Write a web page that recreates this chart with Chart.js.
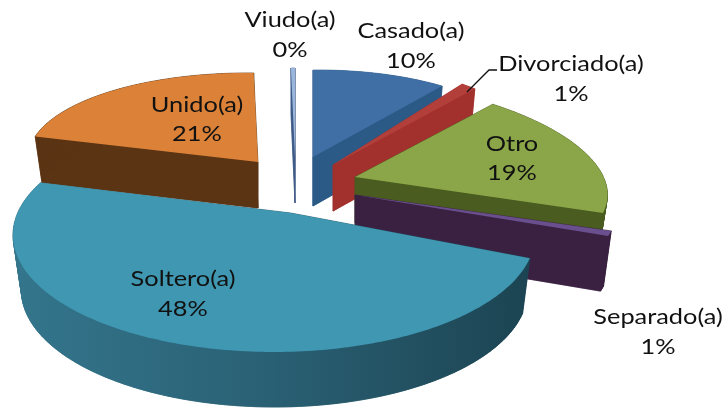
<!DOCTYPE html>
<html>
<head>
<meta charset="utf-8">
<style>html,body{margin:0;padding:0;background:#fff}canvas{display:block}</style>
<script src="https://cdn.jsdelivr.net/npm/chart.js@4"></script>
</head>
<body>
<canvas id="c" width="726" height="408"></canvas>
<script>
const categories = ["Casado(a)","Divorciado(a)","Otro","Separado(a)","Soltero(a)","Unido(a)","Viudo(a)"];
const percentages = [10.2,1.2,18.8,0.9,47.9,20.7,0.3];
const topColors = ["#3f6fa5","#b23f3a","#8ba648","#6a4f8e","#3f97b1","#dc8238","#9ab6dc"];
const wallColors = ["#2b5a86","#a2312e","#4a5c20","#3a2142","#2a6074","#5b3414","#3f5c88"];

// Drawing style: how each slice is projected into the tilted 3D view.
const projection = [
  {ax:313,ay:157,xx:216,xv:0,yx:-2,yv:87,depth:49},
  {ax:333,ay:165,xx:216,xv:0,yx:0,yv:101,depth:46},
  {ax:355,ay:177,xx:250,xv:35,yx:4,yv:100,depth:46},
  {ax:355,ay:195,xx:258,xv:37,yx:4,yv:100,depth:55},
  {ax:291,ay:213,xx:1,xv:0,yx:0,yv:0.47,depth:55,ell:{ox:-17,oy:22,rx:261,ry:117}},
  {ax:258,ay:162,xx:230,xv:0,yx:3.6,yv:89,depth:46},
  {ax:295,ay:157,xx:216,xv:0,yx:0,yv:89,depth:46}
];
const paintOrder = [5,6,0,1,2,3,4];
const labelPlace = [
  {x:411,y:31,y2:61},{x:571,y:64,y2:94},{x:512,y:144,y2:173},
  {x:658,y:317,y2:347},{x:183,y:279,y2:309},{x:197,y:105,y2:134},{x:290,y:20,y2:50}
];
const labelStretch = 1.18;

function rim(theta, st){
  const u=Math.sin(theta), v=-Math.cos(theta);
  let x=st.xx*u+st.xv*v, y=st.yx*u+st.yv*v;
  if(st.ell){
    const e=st.ell;
    const A=x*x/(e.rx*e.rx)+y*y/(e.ry*e.ry);
    const B=-2*(x*e.ox/(e.rx*e.rx)+y*e.oy/(e.ry*e.ry));
    const C=e.ox*e.ox/(e.rx*e.rx)+e.oy*e.oy/(e.ry*e.ry)-1;
    const t=(-B+Math.sqrt(B*B-4*A*C))/(2*A);
    x*=t;y*=t;
  }
  return [x,y];
}
function outline(arc, st, drop){
  const a0=arc.startAngle+Math.PI/2, a1=arc.endAngle+Math.PI/2;
  const n=Math.max(2,Math.ceil((a1-a0)/(Math.PI/180)));
  const sc=1-0.03*drop/st.depth;
  const pts=[[st.ax,st.ay+drop]];
  for(let i=0;i<=n;i++){
    const p=rim(a0+(a1-a0)*i/n,st);
    pts.push([st.ax+p[0]*sc,st.ay+drop+p[1]]);
  }
  return pts;
}
function fillPoly(ctx, pts, stroke){
  ctx.beginPath();
  pts.forEach((p,i)=> i?ctx.lineTo(p[0],p[1]):ctx.moveTo(p[0],p[1]));
  ctx.closePath();
  ctx.fill();
  if(stroke) ctx.stroke();
}
const pie3d = {
  id:'pie3d',
  beforeDatasetDraw(chart){
    const ctx=chart.ctx, arcs=chart.getDatasetMeta(0).data;
    ctx.save();
    paintOrder.forEach(i=>{
      const st=projection[i], arc=arcs[i];
      let wall=wallColors[i];
      if(st.ell){
        const g=ctx.createLinearGradient(10,0,530,0);
        g.addColorStop(0,"#34768d");g.addColorStop(0.5,"#2a6074");g.addColorStop(1,"#1c4452");
        wall=g;
      }
      ctx.fillStyle=wall;
      ctx.strokeStyle=wall;
      ctx.lineWidth=0.6;
      const up=outline(arc,st,0), low=outline(arc,st,st.depth);
      fillPoly(ctx,low,true);
      for(let k=0;k<up.length;k++){
        const m=(k+1)%up.length;
        fillPoly(ctx,[up[k],up[m],low[m],low[k]],true);
      }
      ctx.fillStyle=topColors[i];
      fillPoly(ctx,up,false);
    });
    ctx.restore();
    return false;
  },
  afterDatasetsDraw(chart){
    const ctx=chart.ctx, total=percentages.reduce((a,b)=>a+b,0);
    ctx.save();
    ctx.strokeStyle="#111";ctx.lineWidth=1.3;
    ctx.beginPath();ctx.moveTo(467,92);ctx.lineTo(489,70);ctx.lineTo(497,70);ctx.stroke();
    ctx.fillStyle="#111";
    ctx.font="21.5px Lato";
    ctx.textAlign="center";ctx.textBaseline="middle";
    const put=(t,x,y)=>{ctx.save();ctx.translate(x,y);ctx.scale(labelStretch,1);ctx.fillText(t,0,0);ctx.restore();};
    categories.forEach((c,i)=>{
      const p=labelPlace[i];
      put(c,p.x,p.y);
      put(Math.round(percentages[i]/total*100)+"%",p.x,p.y2);
    });
    ctx.restore();
  }
};
new Chart(document.getElementById('c'),{
  type:'pie',
  data:{labels:categories,datasets:[{data:percentages,backgroundColor:topColors,borderWidth:0}]},
  options:{responsive:false,animation:false,rotation:0,
    plugins:{legend:{display:false},tooltip:{enabled:false}},
    layout:{padding:0}},
  plugins:[pie3d]
});
</script>
</body>
</html>
